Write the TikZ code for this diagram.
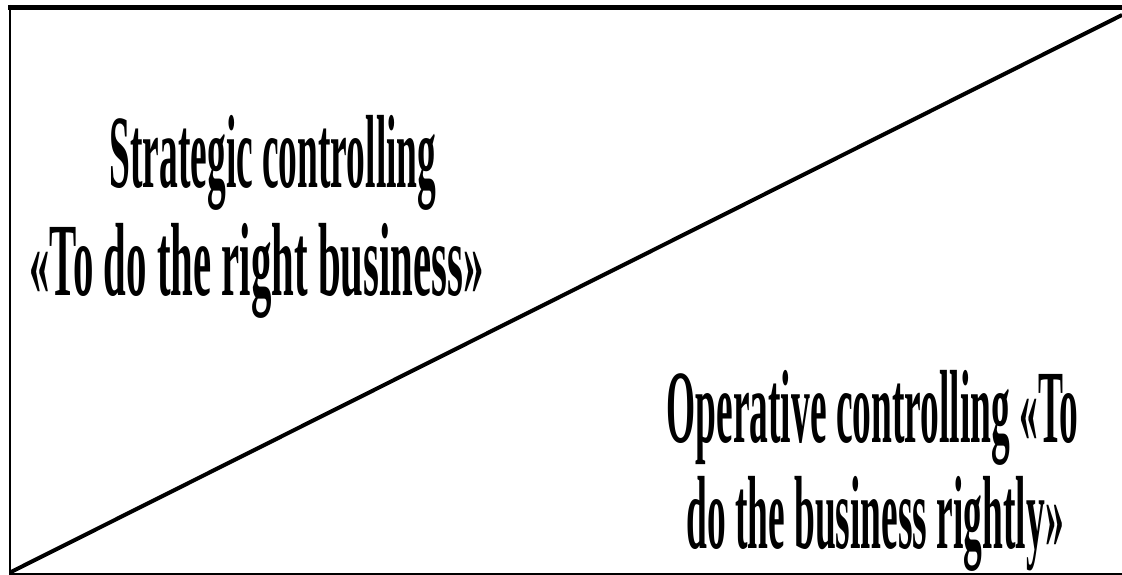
\documentclass[tikz,border=0pt]{standalone}
\usepackage{fontspec}
\setmainfont{Liberation Serif}
\newfontfamily\condfont{Liberation Serif}[FakeStretch=0.36]
\begin{document}
\begin{tikzpicture}[x=1pt,y=-1pt,
  label text/.style={font=\condfont\bfseries\fontsize{104}{108}\selectfont, inner sep=0pt, anchor=base},
  frame line/.style={line width=2pt, line cap=butt},
  top line/.style={line width=5pt, line cap=butt},
  split line/.style={line width=4pt, line cap=butt}]
\useasboundingbox (0,0) rectangle (1122,575);
\coordinate (tl) at (8,7.5);
\coordinate (tr) at (1122,7.5);
\coordinate (ltop) at (10,5);
\coordinate (bl) at (10,573.5);
\coordinate (br) at (1122,573.5);
\coordinate (dstart) at (10,572.5);
\coordinate (dend) at (1122,15);
\draw[top line] (tl) -- (tr);
\draw[frame line] (ltop) -- (bl);
\draw[frame line] (9,573.5) -- (br);
\draw[split line] (dstart) -- (dend);
\node[label text] (s1) at (273,187) {Strategic controlling};
\node[label text] (s2) at (256.5,295) {\scalebox{1.09}[1]{«To do the right business»}};
\node[label text] (o1) at (872.5,442) {Operative controlling «To};
\node[label text] (o2) at (875,548) {do the business rightly»};
\end{tikzpicture}
\end{document}
